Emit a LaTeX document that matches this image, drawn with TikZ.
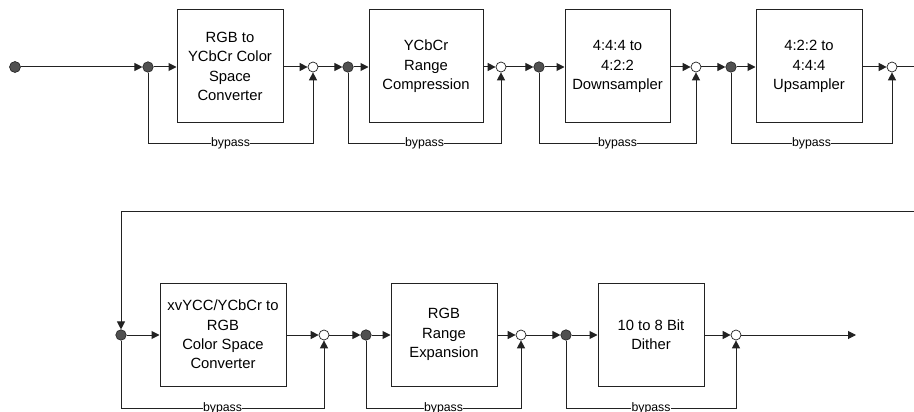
\documentclass[tikz,border=0pt]{standalone}
\usepackage{fontspec}
\setmainfont{Liberation Sans}
\usetikzlibrary{arrows.meta}
\definecolor{ln}{HTML}{222222}
\definecolor{dotc}{HTML}{505050}
\tikzset{
  blk/.style={draw=ln, line width=1pt, minimum height=113pt, align=center, inner sep=0pt,
    font=\fontsize{14.8}{19.4}\selectfont},
  splitdot/.style={circle, draw=ln, fill=dotc, line width=0.6pt, minimum size=10.5pt, inner sep=0pt},
  mergedot/.style={circle, draw=ln, fill=white, line width=0.7pt, minimum size=10pt, inner sep=0pt},
  wire/.style={draw=ln, line width=1pt},
  arr/.style={wire, -{Triangle[length=8pt,width=8pt]}},
  bp/.style={fill=white, inner sep=0.5pt, font=\fontsize{12.3}{14}\selectfont}
}
\begin{document}
\begin{tikzpicture}[x=1pt,y=-1pt]
\useasboundingbox (0,0) rectangle (914,412);
% ---------- top row ----------
\node[splitdot, minimum size=11pt] (s0) at (15,67) {};
\node[splitdot] (d1) at (148,67) {};
\node[blk, minimum width=106pt] (b1) at (230,66.5) {RGB to\\YCbCr Color\\Space\\Converter};
\node[mergedot] (m1) at (313,67) {};
\node[splitdot] (d2) at (348,67) {};
\node[blk, minimum width=114pt] (b2) at (426,66.5) {YCbCr\\Range\\Compression};
\node[mergedot] (m2) at (501,67) {};
\node[splitdot] (d3) at (539,67) {};
\node[blk, minimum width=105pt] (b3) at (617.5,66.5) {4:4:4 to\\4:2:2\\Downsampler};
\node[mergedot] (m3) at (696,67) {};
\node[splitdot] (d4) at (731,67) {};
\node[blk, minimum width=106pt] (b4) at (809,66.5) {4:2:2 to\\4:4:4\\Upsampler};
\node[mergedot] (m4) at (892,67) {};
\coordinate (e1) at (914,67);
\coordinate (by1) at (0,143);

\draw[arr] (s0) -- (d1);
\draw[arr] (d1) -- (d1 -| b1.west);
\draw[arr] (b1.east |- m1) -- (m1);
\draw[arr] (m1) -- (d2);
\draw[arr] (d2) -- (d2 -| b2.west);
\draw[arr] (b2.east |- m2) -- (m2);
\draw[arr] (m2) -- (d3);
\draw[arr] (d3) -- (d3 -| b3.west);
\draw[arr] (b3.east |- m3) -- (m3);
\draw[arr] (m3) -- (d4);
\draw[arr] (d4) -- (d4 -| b4.west);
\draw[arr] (b4.east |- m4) -- (m4);
\draw[wire] (m4) -- (e1);

\draw[arr] (d1) |- node[bp,pos=0.75]{bypass} (m1 |- by1) -- (m1);
\draw[arr] (d2) |- node[bp,pos=0.75]{bypass} (m2 |- by1) -- (m2);
\draw[arr] (d3) |- node[bp,pos=0.75]{bypass} (m3 |- by1) -- (m3);
\draw[arr] (d4) |- node[bp,pos=0.75]{bypass} (m4 |- by1) -- (m4);

% ---------- bottom row ----------
\coordinate (r0) at (914,211);
\node[splitdot] (d5) at (121,335) {};
\node[blk, minimum width=126pt, minimum height=103pt] (b5) at (223,334.5) {xvYCC/YCbCr to\\RGB\\Color Space\\Converter};
\node[mergedot] (m5) at (324,335) {};
\node[splitdot] (d6) at (366,335) {};
\node[blk, minimum width=106pt, minimum height=103pt] (b6) at (444,334.5) {RGB\\Range\\Expansion};
\node[mergedot] (m6) at (521,335) {};
\node[splitdot] (d7) at (566,335) {};
\node[blk, minimum width=106pt, minimum height=103pt] (b7) at (651,334.5) {10 to 8 Bit\\Dither};
\node[mergedot] (m7) at (736,335) {};
\coordinate (out) at (856,335);
\coordinate (by2) at (0,408);

\draw[arr] (r0) -| (d5);
\draw[arr] (d5) -- (d5 -| b5.west);
\draw[arr] (b5.east |- m5) -- (m5);
\draw[arr] (m5) -- (d6);
\draw[arr] (d6) -- (d6 -| b6.west);
\draw[arr] (b6.east |- m6) -- (m6);
\draw[arr] (m6) -- (d7);
\draw[arr] (d7) -- (d7 -| b7.west);
\draw[arr] (b7.east |- m7) -- (m7);
\draw[arr] (m7) -- (out);

\draw[arr] (d5) |- node[bp,pos=0.75]{bypass} (m5 |- by2) -- (m5);
\draw[arr] (d6) |- node[bp,pos=0.75]{bypass} (m6 |- by2) -- (m6);
\draw[arr] (d7) |- node[bp,pos=0.75]{bypass} (m7 |- by2) -- (m7);
\end{tikzpicture}
\end{document}
